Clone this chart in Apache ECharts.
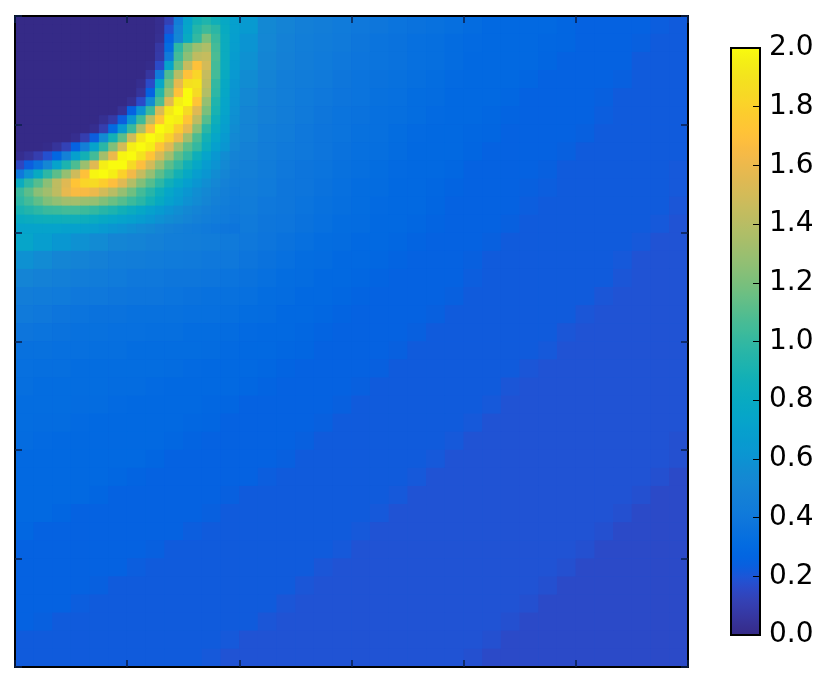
<!DOCTYPE html>
<html>
<head>
<meta charset="utf-8">
<script src="https://cdn.jsdelivr.net/npm/echarts@6/dist/echarts.min.js"></script>
<style>
  html, body { margin: 0; background: #fff; }
  #main { width: 831px; height: 698px; }
</style>
</head>
<body>
<div id="main"></div>
<script>
// parula, 64 steps
var parula = [
  '#352a87','#363093','#3637a0','#353dad','#3243b9','#2b4ac7','#2053d4','#0f5cdd',
  '#0363e1','#0268e1','#046de0','#0871de','#0d75dc','#107ada','#127dd8','#1481d6',
  '#1485d4','#1389d3','#108ed2','#0c93d2','#0998d1','#079ccf','#06a0cd','#06a4ca',
  '#06a7c6','#07a9c2','#0cacbe','#0faeb9','#15b1b4','#1db3af','#25b5a9','#2eb7a4',
  '#38b99e','#42bb98','#4dbc92','#59bd8c','#65be86','#71bf80','#7cbf7b','#87bf77',
  '#92bf73','#9bbf6f','#a5be6b','#aebe67','#b7bd64','#c0bc60','#c8bc5d','#d1bb59',
  '#d9ba56','#e1b952','#e9b94e','#f1b94a','#f8ba44','#fdbe3d','#ffc337','#fec832',
  '#fccd2d','#fbd329','#f7d825','#f5de21','#f4e41d','#f4eb18','#f6f213','#f9fb0e'
];

// value grid of the whole square, 36 x 36 cells
// first 12 rows start at column 12, their left part is in heatTopLeft
var heatTop = [
  [.65,.53,.49,.46,.44,.42,.40,.39,.37,.36,.35,.33,.31,.29,.29,.29,.29,.27,.25,.25,.25,.25,.23,.22],
  [.61,.52,.48,.45,.43,.41,.39,.37,.36,.34,.33,.31,.30,.29,.29,.29,.28,.27,.25,.25,.25,.24,.22,.22],
  [.59,.51,.47,.44,.42,.40,.38,.37,.36,.34,.33,.31,.29,.29,.29,.29,.27,.25,.25,.25,.25,.22,.22,.22],
  [.56,.49,.45,.43,.41,.39,.37,.36,.35,.33,.32,.30,.29,.29,.29,.27,.25,.25,.25,.25,.24,.22,.22,.22],
  [.53,.48,.45,.42,.40,.38,.37,.35,.34,.32,.31,.29,.29,.29,.28,.25,.25,.25,.25,.24,.22,.22,.22,.22],
  [.51,.47,.44,.41,.39,.37,.36,.34,.33,.32,.30,.29,.29,.28,.26,.25,.25,.25,.25,.23,.22,.22,.22,.22],
  [.50,.45,.43,.40,.38,.37,.35,.34,.32,.30,.29,.29,.28,.27,.25,.25,.25,.25,.24,.22,.22,.22,.22,.22],
  [.48,.44,.41,.40,.38,.36,.34,.33,.31,.29,.29,.29,.27,.25,.25,.25,.25,.24,.22,.22,.22,.22,.22,.22],
  [.46,.43,.40,.38,.37,.35,.33,.32,.30,.29,.29,.28,.25,.25,.25,.25,.24,.22,.22,.22,.22,.22,.22,.21],
  [.44,.42,.39,.38,.36,.34,.32,.31,.29,.29,.28,.26,.25,.25,.25,.24,.23,.22,.22,.22,.22,.22,.22,.21],
  [.43,.40,.39,.37,.35,.33,.32,.30,.29,.29,.27,.25,.25,.25,.25,.23,.22,.22,.22,.22,.22,.22,.22,.20],
  [.41,.39,.38,.36,.34,.32,.31,.29,.29,.28,.26,.25,.25,.25,.24,.22,.22,.22,.22,.22,.22,.22,.21,.19]
];
var heatBottom = [
  [.74,.68,.63,.59,.55,.51,.49,.47,.45,.44,.43,.41,.40,.38,.36,.34,.32,.31,.29,.29,.28,.26,.25,.25,.25,.24,.22,.22,.22,.22,.22,.22,.22,.21,.19,.19],
  [.59,.55,.51,.49,.47,.45,.44,.43,.42,.41,.40,.40,.38,.36,.34,.32,.31,.29,.29,.28,.26,.25,.25,.25,.24,.22,.22,.22,.22,.22,.22,.22,.21,.19,.19,.19],
  [.50,.48,.46,.44,.43,.42,.40,.40,.39,.39,.38,.37,.36,.34,.32,.31,.29,.29,.28,.26,.25,.25,.25,.25,.23,.22,.22,.22,.22,.22,.22,.22,.20,.19,.19,.19],
  [.44,.43,.42,.40,.40,.39,.38,.38,.37,.36,.35,.35,.34,.32,.31,.29,.29,.28,.26,.25,.25,.25,.25,.24,.22,.22,.22,.22,.22,.22,.22,.20,.19,.19,.19,.19],
  [.41,.40,.38,.37,.36,.36,.35,.35,.35,.34,.34,.33,.32,.31,.29,.29,.28,.26,.25,.25,.25,.25,.24,.22,.22,.22,.22,.22,.22,.22,.20,.19,.19,.19,.19,.19],
  [.38,.37,.36,.35,.35,.34,.34,.33,.33,.32,.32,.31,.30,.29,.29,.28,.26,.25,.25,.25,.25,.24,.22,.22,.22,.22,.22,.22,.22,.20,.19,.19,.19,.19,.19,.19],
  [.35,.35,.34,.34,.33,.33,.32,.32,.32,.32,.31,.30,.29,.29,.28,.27,.25,.25,.25,.25,.24,.22,.22,.22,.22,.22,.22,.22,.21,.19,.19,.19,.19,.19,.19,.19],
  [.34,.33,.33,.32,.32,.32,.32,.32,.31,.30,.29,.29,.29,.28,.26,.25,.25,.25,.25,.24,.22,.22,.22,.22,.22,.22,.22,.20,.19,.19,.19,.19,.19,.19,.19,.19],
  [.33,.32,.32,.32,.32,.31,.31,.30,.29,.29,.29,.29,.28,.26,.25,.25,.25,.25,.24,.22,.22,.22,.22,.22,.22,.22,.20,.19,.19,.19,.19,.19,.19,.19,.19,.19],
  [.32,.32,.32,.31,.31,.30,.29,.29,.29,.29,.28,.27,.25,.25,.25,.25,.25,.24,.22,.22,.22,.22,.22,.22,.22,.21,.19,.19,.19,.19,.19,.19,.19,.19,.19,.19],
  [.32,.31,.31,.30,.29,.29,.29,.29,.29,.28,.27,.25,.25,.25,.25,.25,.24,.22,.22,.22,.22,.22,.22,.22,.21,.19,.19,.19,.19,.19,.19,.19,.19,.19,.19,.19],
  [.31,.30,.29,.29,.29,.29,.29,.29,.28,.26,.25,.25,.25,.25,.25,.24,.22,.22,.22,.22,.22,.22,.22,.21,.19,.19,.19,.19,.19,.19,.19,.19,.19,.19,.19,.18],
  [.29,.29,.29,.29,.29,.29,.29,.27,.25,.25,.25,.25,.25,.25,.24,.22,.22,.22,.22,.22,.22,.22,.21,.19,.19,.19,.19,.19,.19,.19,.19,.19,.19,.19,.19,.18],
  [.29,.29,.29,.29,.29,.28,.26,.25,.25,.25,.25,.25,.25,.23,.22,.22,.22,.22,.22,.22,.22,.21,.19,.19,.19,.19,.19,.19,.19,.19,.19,.19,.19,.19,.18,.16],
  [.29,.29,.29,.29,.27,.25,.25,.25,.25,.25,.25,.24,.22,.22,.22,.22,.22,.22,.22,.22,.21,.19,.19,.19,.19,.19,.19,.19,.19,.19,.19,.19,.19,.18,.16,.16],
  [.29,.29,.27,.25,.25,.25,.25,.25,.25,.25,.24,.22,.22,.22,.22,.22,.22,.22,.22,.21,.19,.19,.19,.19,.19,.19,.19,.19,.19,.19,.19,.19,.18,.16,.16,.16],
  [.28,.25,.25,.25,.25,.25,.25,.25,.25,.23,.22,.22,.22,.22,.22,.22,.22,.22,.21,.19,.19,.19,.19,.19,.19,.19,.19,.19,.19,.19,.19,.18,.16,.16,.16,.16],
  [.25,.25,.25,.25,.25,.25,.25,.24,.22,.22,.22,.22,.22,.22,.22,.22,.22,.21,.19,.19,.19,.19,.19,.19,.19,.19,.19,.19,.19,.19,.18,.16,.16,.16,.16,.16],
  [.25,.25,.25,.25,.25,.25,.23,.22,.22,.22,.22,.22,.22,.22,.22,.22,.20,.19,.19,.19,.19,.19,.19,.19,.19,.19,.19,.19,.19,.18,.16,.16,.16,.16,.16,.16],
  [.25,.25,.25,.25,.24,.22,.22,.22,.22,.22,.22,.22,.22,.22,.22,.20,.19,.19,.19,.19,.19,.19,.19,.19,.19,.19,.19,.19,.18,.16,.16,.16,.16,.16,.16,.16],
  [.25,.25,.25,.23,.22,.22,.22,.22,.22,.22,.22,.22,.22,.22,.20,.19,.19,.19,.19,.19,.19,.19,.19,.19,.19,.19,.19,.18,.16,.16,.16,.16,.16,.16,.16,.16],
  [.25,.24,.22,.22,.22,.22,.22,.22,.22,.22,.22,.22,.22,.20,.19,.19,.19,.19,.19,.19,.19,.19,.19,.19,.19,.19,.18,.16,.16,.16,.16,.16,.16,.16,.16,.16],
  [.22,.22,.22,.22,.22,.22,.22,.22,.22,.22,.22,.21,.19,.19,.19,.19,.19,.19,.19,.19,.19,.19,.19,.19,.19,.18,.16,.16,.16,.16,.16,.16,.16,.16,.16,.16],
  [.22,.22,.22,.22,.22,.22,.22,.22,.22,.22,.21,.19,.19,.19,.19,.19,.19,.19,.19,.19,.19,.19,.19,.19,.18,.16,.16,.16,.16,.16,.16,.16,.16,.16,.16,.16]
];

// the hot corner again in finer cells, 24 x 24 over the first 12 x 12 of the big grid
var heatTopLeft = [
  [0,0,0,0,0,0,0,0,0,0,0,0,0,0,0,.02,.12,.45,.72,.88,.93,.86,.78,.70],
  [0,0,0,0,0,0,0,0,0,0,0,0,0,0,0,.02,.18,.50,.75,.95,1.03,.97,.80,.70],
  [0,0,0,0,0,0,0,0,0,0,0,0,0,0,0,.03,.25,.52,.80,1.0,1.2,1.02,.82,.69],
  [0,0,0,0,0,0,0,0,0,0,0,0,0,0,0,.07,.32,.98,1.17,1.3,1.36,1.05,.82,.68],
  [0,0,0,0,0,0,0,0,0,0,0,0,0,0,0,.08,.42,1.05,1.25,1.42,1.45,1.07,.82,.67],
  [0,0,0,0,0,0,0,0,0,0,0,0,0,0,.01,.16,.72,1.15,1.45,1.7,1.5,1.05,.82,.66],
  [0,0,0,0,0,0,0,0,0,0,0,0,0,0,.06,.42,1.08,1.4,1.7,1.82,1.45,1.05,.80,.64],
  [0,0,0,0,0,0,0,0,0,0,0,0,0,.02,.16,.75,1.18,1.58,1.88,1.9,1.42,1.0,.78,.62],
  [0,0,0,0,0,0,0,0,0,0,0,0,0,.05,.25,.95,1.3,1.7,2.0,1.85,1.38,.98,.76,.61],
  [0,0,0,0,0,0,0,0,0,0,0,0,.03,.16,.55,1.08,1.55,1.95,2.0,1.72,1.28,.93,.74,.60],
  [0,0,0,0,0,0,0,0,0,0,0,.04,.25,.60,1.03,1.52,1.92,2.0,1.85,1.55,1.2,.90,.73,.59],
  [0,0,0,0,0,0,0,0,0,.03,.08,.23,.62,1.03,1.4,1.72,1.98,1.95,1.72,1.42,1.1,.85,.71,.58],
  [0,0,0,0,0,0,0,0,.02,.10,.30,.65,1.02,1.35,1.7,2.0,1.95,1.78,1.58,1.25,.97,.80,.68,.56],
  [0,0,0,0,0,0,.02,.10,.23,.55,.88,1.12,1.48,1.9,2.0,1.95,1.8,1.6,1.32,1.08,.88,.75,.65,.54],
  [0,0,0,.01,.05,.12,.25,.46,.72,.97,1.22,1.5,1.95,2.0,1.95,1.72,1.55,1.3,1.12,1.0,.83,.70,.62,.52],
  [.02,.05,.10,.18,.28,.48,.70,.88,1.05,1.33,1.6,1.98,2.0,1.9,1.72,1.52,1.32,1.12,1.0,.85,.73,.63,.56,.49],
  [.14,.23,.36,.52,.72,.92,1.08,1.3,1.55,1.95,2.0,2.0,1.85,1.68,1.5,1.3,1.12,1.0,.87,.76,.67,.60,.54,.48],
  [.40,.60,.80,.98,1.12,1.28,1.48,1.7,1.98,2.0,1.95,1.8,1.63,1.45,1.28,1.12,1.0,.88,.78,.68,.62,.56,.51,.46],
  [.82,.98,1.1,1.25,1.42,1.55,1.72,1.82,1.85,1.78,1.68,1.55,1.38,1.22,1.1,.98,.86,.76,.69,.62,.57,.52,.48,.45],
  [1.02,1.12,1.25,1.32,1.42,1.58,1.66,1.65,1.6,1.5,1.4,1.28,1.17,1.05,.96,.85,.75,.68,.62,.57,.53,.49,.46,.43],
  [.98,1.05,1.13,1.22,1.27,1.32,1.33,1.3,1.28,1.22,1.16,1.1,1.03,.97,.88,.79,.71,.65,.59,.55,.51,.47,.45,.42],
  [.90,.94,.98,1.02,1.03,1.05,1.05,1.03,1.0,.96,.92,.87,.82,.76,.71,.66,.61,.57,.53,.50,.47,.45,.43,.41],
  [.80,.82,.84,.85,.85,.86,.86,.84,.81,.78,.75,.72,.70,.67,.63,.59,.56,.53,.50,.47,.45,.43,.42,.40],
  [.72,.72,.72,.72,.72,.71,.71,.70,.68,.65,.62,.60,.58,.55,.53,.50,.48,.46,.44,.43,.41,.40,.39,.38]
];

var bigCount = 36;
var fineCount = 24;
var hiddenCols = 12;

function indexList(n) {
  var list = [];
  for (var i = 0; i < n; i++) list.push(i);
  return list;
}

var bigData = [];
heatTop.forEach(function (row, r) {
  row.forEach(function (v, c) { bigData.push([c + hiddenCols, r, v]); });
});
heatBottom.forEach(function (row, r) {
  row.forEach(function (v, c) { bigData.push([c, r + heatTop.length, v]); });
});
var fineData = [];
heatTopLeft.forEach(function (row, r) {
  row.forEach(function (v, c) { fineData.push([c, r, v]); });
});

var bigCats = indexList(bigCount);
var fineCats = indexList(fineCount);

function frameAxis(type, pos) {
  return {
    type: 'category',
    gridIndex: 0,
    position: pos,
    data: bigCats,
    inverse: type === 'y',
    z: 5,
    axisLine: { show: true, onZero: false, lineStyle: { color: '#000', width: 2 } },
    axisTick: { show: true, inside: true, interval: 5, length: 7, lineStyle: { color: '#0a1f4a', width: 1.5 } },
    axisLabel: { show: false },
    splitLine: { show: false }
  };
}

// fractional cell edges let the page show through, so keep a blue under the cells
// and paint the fine corner twice
function fineSeries() {
  return {
    type: 'heatmap',
    xAxisIndex: 2,
    yAxisIndex: 2,
    data: fineData,
    progressive: 0,
    silent: true
  };
}

var chart = echarts.init(document.getElementById('main'));
chart.setOption({
  animation: false,
  backgroundColor: '#fff',
  textStyle: { fontFamily: 'DejaVu Sans' },
  grid: [
    { left: 15, top: 16, width: 673, height: 651, show: true, borderWidth: 0, backgroundColor: '#0f5cdd' },
    { left: 15, top: 16, width: 224.33, height: 217 },
    { left: 731, top: 48, width: 29, height: 587, show: true, z: 10, borderColor: '#000', borderWidth: 2, backgroundColor: 'transparent' }
  ],
  xAxis: [
    frameAxis('x', 'bottom'),
    frameAxis('x', 'top'),
    { type: 'category', gridIndex: 1, data: fineCats, show: false },
    { type: 'category', gridIndex: 2, data: ['bar'], show: false }
  ],
  yAxis: [
    frameAxis('y', 'left'),
    frameAxis('y', 'right'),
    { type: 'category', gridIndex: 1, data: fineCats, inverse: true, show: false },
    {
      type: 'value',
      gridIndex: 2,
      position: 'right',
      min: 0,
      max: 2,
      interval: 0.2,
      z: 11,
      axisLine: { show: false },
      axisTick: { show: true, inside: true, length: 7, lineStyle: { color: '#000', width: 1 } },
      splitLine: { show: false },
      axisLabel: {
        show: true,
        margin: 9,
        color: '#000',
        fontSize: 28,
        fontFamily: 'DejaVu Sans',
        formatter: function (v) { return v.toFixed(1); }
      }
    }
  ],
  visualMap: {
    type: 'continuous',
    seriesIndex: [0, 1, 2],
    min: 0,
    max: 2,
    calculable: false,
    realtime: false,
    left: 731,
    top: 48,
    padding: 0,
    itemWidth: 29,
    itemHeight: 587,
    text: null,
    showLabel: false,
    inRange: { color: parula }
  },
  series: [
    {
      type: 'heatmap',
      xAxisIndex: 0,
      yAxisIndex: 0,
      data: bigData,
      progressive: 0,
      silent: true
    },
    fineSeries(),
    fineSeries()
  ]
});
</script>
</body>
</html>
